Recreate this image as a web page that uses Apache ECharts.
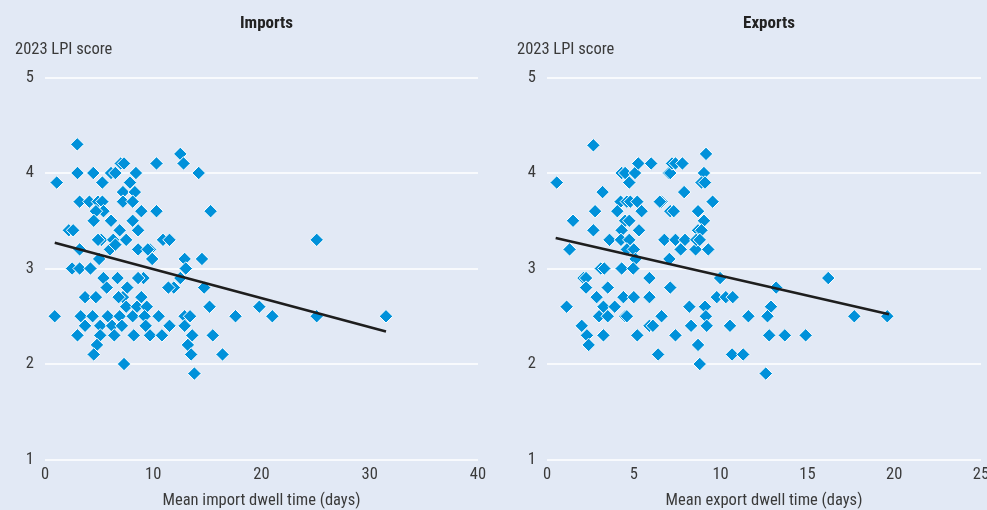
<!DOCTYPE html>
<html>
<head>
<meta charset="utf-8">
<script src="https://cdn.jsdelivr.net/npm/echarts@6/dist/echarts.min.js"></script>
<style>
  html, body { margin: 0; padding: 0; background: #e2e9f5; }
  #chart { width: 987px; height: 510px; }
</style>
</head>
<body>
<div id="chart"></div>
<script>
// Mean dwell time (days) vs. 2023 LPI score, one point per economy
const importPoints = [
  [2.98,4.30],[1.08,3.90],[3.0,4.0],[4.46,4.0],[5.3,3.9],[6.1,4.0],[6.5,4.0],[7.0,4.1],[7.3,4.1],
  [8.4,4.0],[7.85,3.9],[10.3,4.1],[12.5,4.2],[12.8,4.1],[14.2,4.0],[15.3,3.6],[10.3,3.6],[8.9,3.6],
  [7.2,3.8],[8.3,3.8],[7.2,3.7],[8.1,3.7],[3.2,3.7],[4.1,3.7],[4.9,3.7],[5.3,3.7],[5.4,3.6],[4.7,3.6],
  [6.1,3.5],[4.5,3.5],[8.1,3.5],[8.6,3.4],[6.9,3.4],[2.2,3.4],[2.6,3.4],[3.2,3.2],[5.2,3.3],[4.9,3.3],
  [6.3,3.3],[7.5,3.3],[6.0,3.2],[6.5,3.25],[8.6,3.2],[9.7,3.2],[9.5,3.2],[10.9,3.3],[11.5,3.3],[9.9,3.1],
  [5.0,3.1],[12.9,3.1],[14.5,3.1],[2.5,3.0],[3.2,3.0],[4.2,3.0],[13.0,3.0],[5.4,2.9],[6.7,2.9],[9.1,2.9],
  [8.6,2.9],[5.7,2.8],[7.6,2.8],[12.5,2.9],[11.9,2.8],[11.4,2.8],[14.7,2.8],[3.7,2.7],[4.7,2.7],[7.2,2.7],
  [6.8,2.7],[8.9,2.7],[7.5,2.6],[8.5,2.6],[9.4,2.6],[15.2,2.6],[0.9,2.5],[3.3,2.5],[4.4,2.5],[5.8,2.5],
  [6.9,2.5],[8.1,2.5],[9.2,2.5],[10.5,2.5],[12.9,2.5],[13.4,2.5],[17.6,2.5],[3.7,2.4],[5.1,2.4],[6.2,2.4],
  [7.1,2.4],[9.3,2.4],[11.5,2.4],[12.9,2.4],[3.0,2.3],[5.1,2.3],[6.4,2.3],[8.2,2.3],[9.7,2.3],[10.8,2.3],
  [13.6,2.3],[15.5,2.3],[4.8,2.2],[13.2,2.2],[4.5,2.1],[13.5,2.1],[16.4,2.1],[7.3,2.0],[13.8,1.9],
  [25.1,3.3],[19.8,2.6],[21.0,2.5],[25.1,2.5],[31.5,2.5]
];
const exportPoints = [
  [2.67,4.29],[0.56,3.9],[4.3,4.0],[4.5,4.0],[4.74,3.9],[5.07,4.0],[5.26,4.1],[6.0,4.1],[7.0,4.0],
  [7.1,4.0],[7.2,4.1],[7.4,4.1],[7.8,4.1],[9.16,4.2],[9.04,4.0],[8.9,3.9],[9.1,3.9],[7.9,3.8],[3.2,3.8],
  [9.54,3.7],[2.77,3.6],[1.5,3.5],[2.67,3.4],[1.3,3.2],[3.6,3.3],[4.24,3.7],[4.6,3.7],[4.8,3.7],[5.2,3.7],
  [4.05,3.6],[5.45,3.6],[4.5,3.5],[4.74,3.5],[4.3,3.4],[5.3,3.4],[4.26,3.3],[4.74,3.3],[4.6,3.2],[5.0,3.2],
  [5.1,3.1],[4.3,3.0],[4.97,3.0],[6.6,3.7],[6.5,3.7],[7.1,3.6],[7.3,3.6],[6.76,3.3],[7.4,3.3],[7.7,3.2],
  [7.95,3.3],[8.56,3.2],[8.7,3.6],[9.04,3.5],[8.7,3.4],[8.9,3.4],[8.6,3.3],[8.8,3.3],[9.29,3.2],[7.05,3.1],
  [3.1,3.0],[3.3,3.0],[2.1,2.9],[2.25,2.9],[2.25,2.8],[3.5,2.8],[5.9,2.9],[2.86,2.7],[4.4,2.7],[5.0,2.7],
  [5.9,2.7],[7.1,2.8],[3.25,2.6],[3.9,2.6],[1.13,2.6],[3.0,2.5],[3.5,2.5],[4.5,2.5],[4.6,2.5],[6.6,2.5],
  [8.2,2.6],[9.1,2.6],[9.15,2.5],[2.0,2.4],[2.3,2.3],[2.4,2.2],[3.25,2.3],[5.2,2.3],[5.9,2.4],[6.1,2.4],
  [7.4,2.3],[8.3,2.4],[9.2,2.4],[10.54,2.4],[6.4,2.1],[8.7,2.2],[8.8,2.0],[9.97,2.9],[9.78,2.7],[10.3,2.7],
  [10.7,2.7],[11.6,2.5],[10.66,2.1],[11.3,2.1],[13.2,2.8],[12.9,2.6],[12.7,2.5],[12.8,2.3],[13.7,2.3],
  [14.9,2.3],[12.6,1.9],[16.2,2.9],[17.7,2.5],[19.6,2.5]
];

// Fitted trend line endpoints
const importTrend = [[0.9, 3.27], [31.5, 2.34]];
const exportTrend = [[0.5, 3.32], [19.7, 2.52]];

const panelTitles = ['Imports', 'Exports'];
const xAxisNames = ['Mean import dwell time (days)', 'Mean export dwell time (days)'];
const xMax = [40, 25];
const xStep = [10, 5];
const yAxisName = '2023 LPI score';

const FONT = "'Roboto Condensed', 'Liberation Sans Narrow', sans-serif";
const TEXT = '#3a3a3a';
const DOT = '#0091da';

const chart = echarts.init(document.getElementById('chart'), null, { renderer: 'canvas' });

// Fixed plot areas; labels may sit outside them
const grids = [
  { left: 45, right: 509, top: 77.5, bottom: 50.5, containLabel: false, outerBoundsMode: 'none' },
  { left: 547, right: 6, top: 77.5, bottom: 50.5, containLabel: false, outerBoundsMode: 'none' }
];

const xAxes = [0, 1].map(i => ({
  type: 'value', gridIndex: i, min: 0, max: xMax[i], interval: xStep[i],
  name: xAxisNames[i], nameLocation: 'middle', nameGap: 33,
  nameTextStyle: { fontFamily: FONT, fontSize: 16.5, color: TEXT },
  axisLine: { show: false }, axisTick: { show: false }, splitLine: { show: false },
  axisLabel: { fontFamily: FONT, fontSize: 16.5, color: TEXT, margin: 7 }
}));

const yAxes = [0, 1].map(i => ({
  type: 'value', gridIndex: i, min: 1, max: 5, interval: 1,
  axisLine: { show: false }, axisTick: { show: false },
  splitLine: { show: true, lineStyle: { color: '#ffffff', width: 1.5 } },
  axisLabel: { fontFamily: FONT, fontSize: 16.5, color: TEXT, margin: 11 }
}));

const scatterSeries = (data, i) => ({
  type: 'scatter', xAxisIndex: i, yAxisIndex: i, data,
  symbol: 'diamond', symbolSize: [13.5, 13.5],
  itemStyle: { color: DOT, borderColor: '#ffffff', borderWidth: 1, opacity: 1 },
  z: 2
});

const trendSeries = (data, i) => ({
  type: 'line', xAxisIndex: i, yAxisIndex: i, data,
  symbol: 'none', lineStyle: { color: '#1e1e1e', width: 2.5 }, z: 3, silent: true
});

chart.setOption({
  backgroundColor: '#e2e9f5',
  animation: false,
  title: [
    { text: panelTitles[0], left: 261.5, top: 10, textAlign: 'center',
      textStyle: { fontFamily: FONT, fontSize: 17, fontWeight: 'bold', color: '#222' } },
    { text: panelTitles[1], left: 764, top: 10, textAlign: 'center',
      textStyle: { fontFamily: FONT, fontSize: 17, fontWeight: 'bold', color: '#222' } }
  ],
  graphic: [
    { type: 'text', left: 15, top: 41, style: { text: yAxisName, font: '16.5px ' + FONT, fill: TEXT } },
    { type: 'text', left: 517, top: 41, style: { text: yAxisName, font: '16.5px ' + FONT, fill: TEXT } }
  ],
  grid: grids,
  xAxis: xAxes,
  yAxis: yAxes,
  series: [
    scatterSeries(importPoints, 0),
    scatterSeries(exportPoints, 1),
    trendSeries(importTrend, 0),
    trendSeries(exportTrend, 1)
  ]
});
</script>
</body>
</html>
